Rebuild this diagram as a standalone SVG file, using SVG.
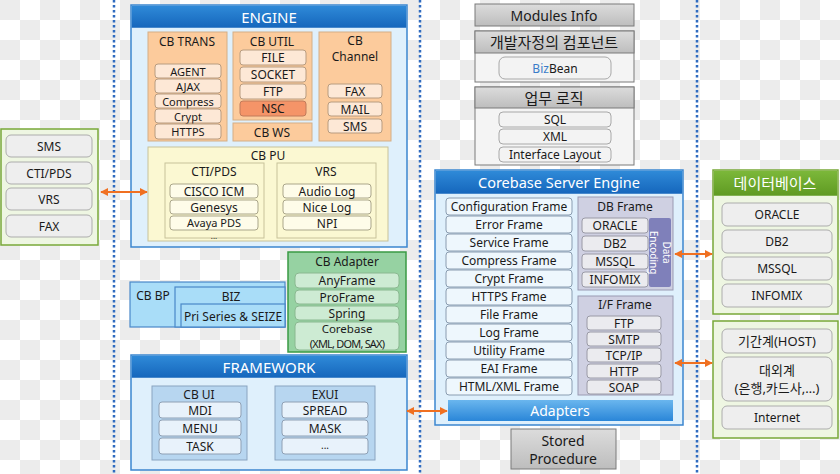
<svg xmlns="http://www.w3.org/2000/svg" width="840" height="474" viewBox="0 0 840 474">
<defs>
<pattern id="chk" width="40" height="40" patternUnits="userSpaceOnUse">
<rect width="40" height="40" fill="#ffffff"/>
<rect width="20" height="20" fill="#ececec"/>
<rect x="20" y="20" width="20" height="20" fill="#ececec"/>
</pattern>
<linearGradient id="gBlue" x1="0" y1="0" x2="0" y2="1"><stop offset="0" stop-color="#2f8ad8"/><stop offset="1" stop-color="#1566bc"/></linearGradient>
<linearGradient id="gAd" x1="0" y1="0" x2="0" y2="1"><stop offset="0" stop-color="#6ab6ee"/><stop offset="1" stop-color="#2a86d8"/></linearGradient>
<linearGradient id="gGray" x1="0" y1="0" x2="0" y2="1"><stop offset="0" stop-color="#dcdcdc"/><stop offset="1" stop-color="#bdbdbd"/></linearGradient>
<linearGradient id="gGreen" x1="0" y1="0" x2="0" y2="1"><stop offset="0" stop-color="#7cb83a"/><stop offset="1" stop-color="#5f9a22"/></linearGradient>
<marker id="ah" viewBox="0 0 10 10" refX="9" refY="5" markerWidth="4" markerHeight="4" orient="auto-start-reverse"><path d="M0,0 L10,5 L0,10 z" fill="#f07021"/></marker>
<style>
.t{font-family:"Noto Sans","Noto Sans CJK KR",sans-serif;font-size:12px;text-anchor:middle;dominant-baseline:central;fill:#1a1a1a}
.s{font-size:10px}
.m{font-size:11px}
.w{fill:#ffffff;font-size:14px}
.k{font-size:15px}
.blueBox{fill:#dff0fc;stroke:#3b86cf;stroke-width:1.5}
.hdr{fill:url(#gBlue)}
.peach{fill:#fccb9c;stroke:#d4ae86}
.pItem{fill:#fde8d6;stroke:#b89c80}
.yel{fill:#fbf8d2;stroke:#c8c29a}
.yItem{fill:#fefce9;stroke:#aaa68a}
.ui{fill:#b7d6f0;stroke:#8aa4c0}
.uiItem{fill:#e8f2fb;stroke:#8fa0b4}
.gBox{fill:#f4f4f4;stroke:#7a7a7a}
.gHdr{fill:url(#gGray);stroke:#7a7a7a}
.gItem{fill:#f3f3f3;stroke:#a8a8a8}
.cItem{fill:#eef7fd;stroke:#8a9cb0}
.lav{fill:#cfd0e2;stroke:#9a9ab2}
.lItem{fill:#ebebef;stroke:#9a9aa6}
.grn{fill:#eef6e2;stroke:#78a838;stroke-width:1.5}
.eItem{fill:#eeeeee;stroke:#acacac}
.dot{stroke:#2f6bc0;stroke-width:2.5;stroke-dasharray:2.5 2.5;fill:none}
.arr{stroke:#f07021;stroke-width:2;fill:none;marker-start:url(#ah);marker-end:url(#ah)}
</style>
</defs>
<rect width="840" height="474" fill="url(#chk)"/>
<g id="dividers">
<line class="dot" x1="114" y1="0" x2="114" y2="474"/>
<line class="dot" x1="420" y1="0" x2="420" y2="474"/>
<line class="dot" x1="697" y1="0" x2="697" y2="474"/>
</g>

<g id="ext-left">
<rect x="1" y="129" width="97" height="116" class="grn"/>
<rect x="6" y="135" width="86" height="22" rx="5" class="eItem"/><text class="t" x="49" y="146">SMS</text>
<rect x="6" y="162" width="86" height="22" rx="5" class="eItem"/><text class="t" x="49" y="173">CTI/PDS</text>
<rect x="6" y="188" width="86" height="22" rx="5" class="eItem"/><text class="t" x="49" y="199">VRS</text>
<rect x="6" y="215" width="86" height="22" rx="5" class="eItem"/><text class="t" x="49" y="226">FAX</text>
</g>

<g id="engine">
<rect x="131" y="5" width="276" height="242" class="blueBox"/>
<rect x="131.75" y="5.75" width="274.5" height="22" class="hdr"/>
<text class="t w" x="269" y="17" style="font-size:15px">ENGINE</text>
</g>
<g id="cb-trans">
<rect x="148" y="32" width="79" height="109" class="peach"/>
<text class="t" x="187" y="41">CB TRANS</text>
<rect x="155" y="64" width="66" height="14" rx="3" class="pItem"/><text class="t m" x="188" y="71">AGENT</text>
<rect x="155" y="79" width="66" height="14" rx="3" class="pItem"/><text class="t m" x="188" y="86">AJAX</text>
<rect x="155" y="94" width="66" height="14" rx="3" class="pItem"/><text class="t m" x="188" y="101">Compress</text>
<rect x="155" y="109" width="66" height="14" rx="3" class="pItem"/><text class="t m" x="188" y="116">Crypt</text>
<rect x="155" y="124" width="66" height="15" rx="3" class="pItem"/><text class="t m" x="188" y="131.5">HTTPS</text>
</g>
<g id="cb-util">
<rect x="233" y="32" width="79" height="88" class="peach"/>
<text class="t" x="272" y="41">CB UTIL</text>
<rect x="240" y="50" width="66" height="15" rx="3" class="pItem"/><text class="t" x="273" y="57.5">FILE</text>
<rect x="240" y="67" width="66" height="15" rx="3" class="pItem"/><text class="t" x="273" y="74.5">SOCKET</text>
<rect x="240" y="84" width="66" height="15" rx="3" class="pItem"/><text class="t" x="273" y="91.5">FTP</text>
<rect x="240" y="101" width="66" height="15" rx="3" fill="#f59468" stroke="#c07a5a"/><text class="t" x="273" y="108.5">NSC</text>
</g>
<g id="cb-ws">
<rect x="233" y="123" width="79" height="18" class="peach"/>
<text class="t" x="272" y="132">CB WS</text>
</g>
<g id="cb-channel">
<rect x="319" y="32" width="72" height="109" class="peach"/>
<text class="t" x="355" y="40">CB</text>
<text class="t" x="355" y="56">Channel</text>
<rect x="328" y="84" width="54" height="14" rx="3" class="pItem"/><text class="t" x="355" y="91">FAX</text>
<rect x="328" y="102" width="54" height="14" rx="3" class="pItem"/><text class="t" x="355" y="109">MAIL</text>
<rect x="328" y="119" width="54" height="14" rx="3" class="pItem"/><text class="t" x="355" y="126">SMS</text>
</g>
<g id="cb-pu">
<rect x="148" y="147" width="240" height="94" class="yel"/>
<text class="t" x="268" y="155">CB PU</text>
</g>
<g id="cti-pds">
<rect x="165" y="163" width="99" height="75" class="yel"/>
<text class="t" x="214" y="171">CTI/PDS</text>
<rect x="170" y="184" width="88" height="14" rx="3" class="yItem"/><text class="t" x="214" y="191">CISCO ICM</text>
<rect x="170" y="200" width="88" height="14" rx="3" class="yItem"/><text class="t" x="214" y="207">Genesys</text>
<rect x="170" y="216" width="88" height="14" rx="3" class="yItem"/><text class="t m" x="214" y="222">Avaya PDS</text>
<text class="t" x="214" y="235" style="font-size:8px">...</text>
</g>
<g id="vrs">
<rect x="277" y="163" width="99" height="75" class="yel"/>
<text class="t" x="326" y="171">VRS</text>
<rect x="283" y="184" width="88" height="14" rx="3" class="yItem"/><text class="t" x="327" y="191">Audio Log</text>
<rect x="283" y="200" width="88" height="14" rx="3" class="yItem"/><text class="t" x="327" y="207">Nice Log</text>
<rect x="283" y="216" width="88" height="14" rx="3" class="yItem"/><text class="t" x="327" y="223">NPI</text>
</g>

<g id="cb-bp">
<rect x="130" y="282" width="155" height="45" fill="#a9ddf8" stroke="#4a88c8" stroke-width="1.2"/>
<text class="t" x="153" y="295">CB BP</text>
<rect x="175" y="287" width="110" height="40" fill="#a9ddf8" stroke="#4a88c8" stroke-width="1.2"/>
<text class="t" x="231" y="296">BIZ</text>
<rect x="181" y="304" width="104" height="23" fill="#a9ddf8" stroke="#4a88c8" stroke-width="1.2"/>
<text class="t" x="233" y="316">Pri Series &amp; SEIZE</text>
</g>

<g id="cb-adapter">
<rect x="288" y="252" width="118" height="100" fill="#96d2a2" stroke="#3a9a44" stroke-width="1.5"/>
<text class="t" x="347" y="261">CB Adapter</text>
<rect x="295" y="273" width="104" height="15" rx="4" fill="#cdebd3" stroke="#8ab890"/><text class="t" x="347" y="280.5">AnyFrame</text>
<rect x="295" y="290" width="104" height="14" rx="4" fill="#cdebd3" stroke="#8ab890"/><text class="t" x="347" y="297">ProFrame</text>
<rect x="295" y="306" width="104" height="14" rx="4" fill="#cdebd3" stroke="#8ab890"/><text class="t" x="347" y="313">Spring</text>
<rect x="295" y="322" width="104" height="28" rx="4" fill="#cdebd3" stroke="#8ab890"/><text class="t" x="347" y="328.5" style="font-size:11.5px">Corebase</text><text class="t" x="347" y="343" style="font-size:11px" letter-spacing="-0.8">(XML, DOM, SAX)</text>
</g>

<g id="framework">
<rect x="131" y="355" width="276" height="115" class="blueBox"/>
<rect x="131.75" y="355.75" width="274.5" height="22" class="hdr"/>
<text class="t w" x="269" y="367" style="font-size:15px">FRAMEWORK</text>
</g>
<g id="cb-ui">
<rect x="152" y="386" width="95" height="74" class="ui"/>
<text class="t" x="199" y="394">CB UI</text>
<rect x="159" y="402" width="82" height="16" rx="3" class="uiItem"/><text class="t" x="200" y="410">MDI</text>
<rect x="159" y="420" width="82" height="16" rx="3" class="uiItem"/><text class="t" x="200" y="428">MENU</text>
<rect x="159" y="438" width="82" height="16" rx="3" class="uiItem"/><text class="t" x="200" y="446">TASK</text>
</g>
<g id="exui">
<rect x="275" y="386" width="100" height="74" class="ui"/>
<text class="t" x="325" y="394">EXUI</text>
<rect x="282" y="402" width="86" height="16" rx="3" class="uiItem"/><text class="t" x="325" y="410">SPREAD</text>
<rect x="282" y="420" width="86" height="16" rx="3" class="uiItem"/><text class="t" x="325" y="428">MASK</text>
<rect x="282" y="438" width="86" height="16" rx="3" class="uiItem"/><text class="t s" x="325" y="445">...</text>
</g>

<g id="modules-info">
<rect x="475" y="4" width="159" height="22" class="gHdr"/>
<text class="t" x="554" y="15" style="font-size:14px">Modules Info</text>
</g>
<g id="dev-components">
<rect x="475" y="31" width="159" height="51" class="gBox"/>
<rect x="475" y="31" width="159" height="22" class="gHdr"/>
<text class="t k" x="554" y="42">개발자정의 컴포넌트</text>
<rect x="499" y="57" width="112" height="22" rx="6" class="gItem"/>
<text class="t" x="555" y="68"><tspan fill="#3a7cc8">Biz</tspan>Bean</text>
</g>
<g id="biz-logic">
<rect x="475" y="87" width="159" height="78" class="gBox"/>
<rect x="475" y="87" width="159" height="21" class="gHdr"/>
<text class="t k" x="554" y="97.5">업무 로직</text>
<rect x="499" y="112" width="112" height="15" rx="4" class="gItem"/><text class="t" x="555" y="119.5">SQL</text>
<rect x="499" y="129" width="112" height="15" rx="4" class="gItem"/><text class="t" x="555" y="136.5">XML</text>
<rect x="499" y="147" width="112" height="15" rx="4" class="gItem"/><text class="t" x="555" y="154.5">Interface Layout</text>
</g>

<g id="corebase-engine">
<rect x="435" y="170" width="248" height="255" class="blueBox"/>
<rect x="435.75" y="170.75" width="246.5" height="23" class="hdr"/>
<text class="t w" x="559" y="182" style="font-size:14.5px">Corebase Server Engine</text>
<rect x="446" y="198" width="126" height="17" rx="3" class="cItem"/><text class="t" x="509" y="206.5">Configuration Frame</text>
<rect x="446" y="216" width="126" height="17" rx="3" class="cItem"/><text class="t" x="509" y="224.5">Error Frame</text>
<rect x="446" y="234" width="126" height="17" rx="3" class="cItem"/><text class="t" x="509" y="242.5">Service Frame</text>
<rect x="446" y="252" width="126" height="17" rx="3" class="cItem"/><text class="t" x="509" y="260.5">Compress Frame</text>
<rect x="446" y="270" width="126" height="17" rx="3" class="cItem"/><text class="t" x="509" y="278.5">Crypt Frame</text>
<rect x="446" y="288" width="126" height="17" rx="3" class="cItem"/><text class="t" x="509" y="296.5">HTTPS Frame</text>
<rect x="446" y="306" width="126" height="17" rx="3" class="cItem"/><text class="t" x="509" y="314.5">File Frame</text>
<rect x="446" y="324" width="126" height="17" rx="3" class="cItem"/><text class="t" x="509" y="332.5">Log Frame</text>
<rect x="446" y="342" width="126" height="17" rx="3" class="cItem"/><text class="t" x="509" y="350.5">Utility Frame</text>
<rect x="446" y="360" width="126" height="17" rx="3" class="cItem"/><text class="t" x="509" y="368.5">EAI Frame</text>
<rect x="446" y="378" width="126" height="17" rx="3" class="cItem"/><text class="t" x="509" y="386.5">HTML/XML Frame</text>
</g>
<g id="db-frame">
<rect x="578" y="197" width="95" height="93" class="lav"/>
<text class="t" x="625" y="206">DB Frame</text>
<rect x="582" y="218" width="66" height="15" rx="3" class="lItem"/><text class="t" x="615" y="225.5">ORACLE</text>
<rect x="582" y="236" width="66" height="15" rx="3" class="lItem"/><text class="t" x="615" y="243.5">DB2</text>
<rect x="582" y="254" width="66" height="15" rx="3" class="lItem"/><text class="t" x="615" y="261.5">MSSQL</text>
<rect x="582" y="272" width="66" height="15" rx="3" class="lItem"/><text class="t" x="615" y="279.5">INFOMIX</text>
<rect x="649" y="218" width="22" height="69" rx="2" fill="#7f80ba"/>
<g transform="rotate(90 660 252.5)">
<text class="t" x="660" y="246" style="fill:#ffffff;font-size:10px">Data</text>
<text class="t" x="660" y="258.5" style="fill:#ffffff;font-size:10px">Encoding</text>
</g>
</g>
<g id="if-frame">
<rect x="578" y="296" width="95" height="99" class="lav"/>
<text class="t" x="625" y="304">I/F Frame</text>
<rect x="587" y="316" width="74" height="14" rx="3" class="lItem"/><text class="t" x="624" y="323">FTP</text>
<rect x="587" y="332" width="74" height="14" rx="3" class="lItem"/><text class="t" x="624" y="339">SMTP</text>
<rect x="587" y="348" width="74" height="14" rx="3" class="lItem"/><text class="t" x="624" y="355">TCP/IP</text>
<rect x="587" y="364" width="74" height="14" rx="3" class="lItem"/><text class="t" x="624" y="371">HTTP</text>
<rect x="587" y="380" width="74" height="14" rx="3" class="lItem"/><text class="t" x="624" y="387">SOAP</text>
</g>
<g id="adapters">
<rect x="448" y="400" width="225" height="21" fill="url(#gAd)"/>
<text class="t w" x="560" y="410.5">Adapters</text>
</g>
<g id="stored-procedure">
<rect x="511" y="429" width="105" height="40" class="gHdr"/>
<text class="t" x="563" y="440" style="font-size:14px">Stored</text>
<text class="t" x="563" y="458" style="font-size:14px">Procedure</text>
</g>

<g id="database">
<rect x="713" y="170" width="125" height="144" class="grn"/>
<rect x="713.75" y="170.75" width="123.5" height="25" fill="url(#gGreen)"/>
<text class="t w" x="775" y="183" style="font-size:15px">데이터베이스</text>
<rect x="722" y="203" width="110" height="23" rx="5" class="eItem"/><text class="t" x="777" y="214.5">ORACLE</text>
<rect x="722" y="230" width="110" height="23" rx="5" class="eItem"/><text class="t" x="777" y="241.5">DB2</text>
<rect x="722" y="257" width="110" height="23" rx="5" class="eItem"/><text class="t" x="777" y="268.5">MSSQL</text>
<rect x="722" y="284" width="110" height="23" rx="5" class="eItem"/><text class="t" x="777" y="295.5">INFOMIX</text>
</g>
<g id="ext-systems">
<rect x="713" y="321" width="125" height="117" class="grn"/>
<rect x="722" y="329" width="110" height="24" rx="5" class="eItem"/><text class="t" x="777" y="341" style="font-size:13px">기간계(HOST)</text>
<rect x="722" y="357" width="110" height="44" rx="6" class="eItem"/><text class="t" x="777" y="370" style="font-size:13px">대외계</text><text class="t" x="777" y="388" style="font-size:13px">(은행,카드사,…)</text>
<rect x="722" y="406" width="110" height="23" rx="5" class="eItem"/><text class="t" x="777" y="417.5">Internet</text>
</g>

<g id="connectors">
<line class="arr" x1="101" y1="192" x2="147" y2="192"/>
<line class="arr" x1="675" y1="254" x2="712" y2="254"/>
<line class="arr" x1="675" y1="363" x2="712" y2="363"/>
<line class="arr" x1="407" y1="411" x2="447" y2="411"/>
</g>
</svg>
